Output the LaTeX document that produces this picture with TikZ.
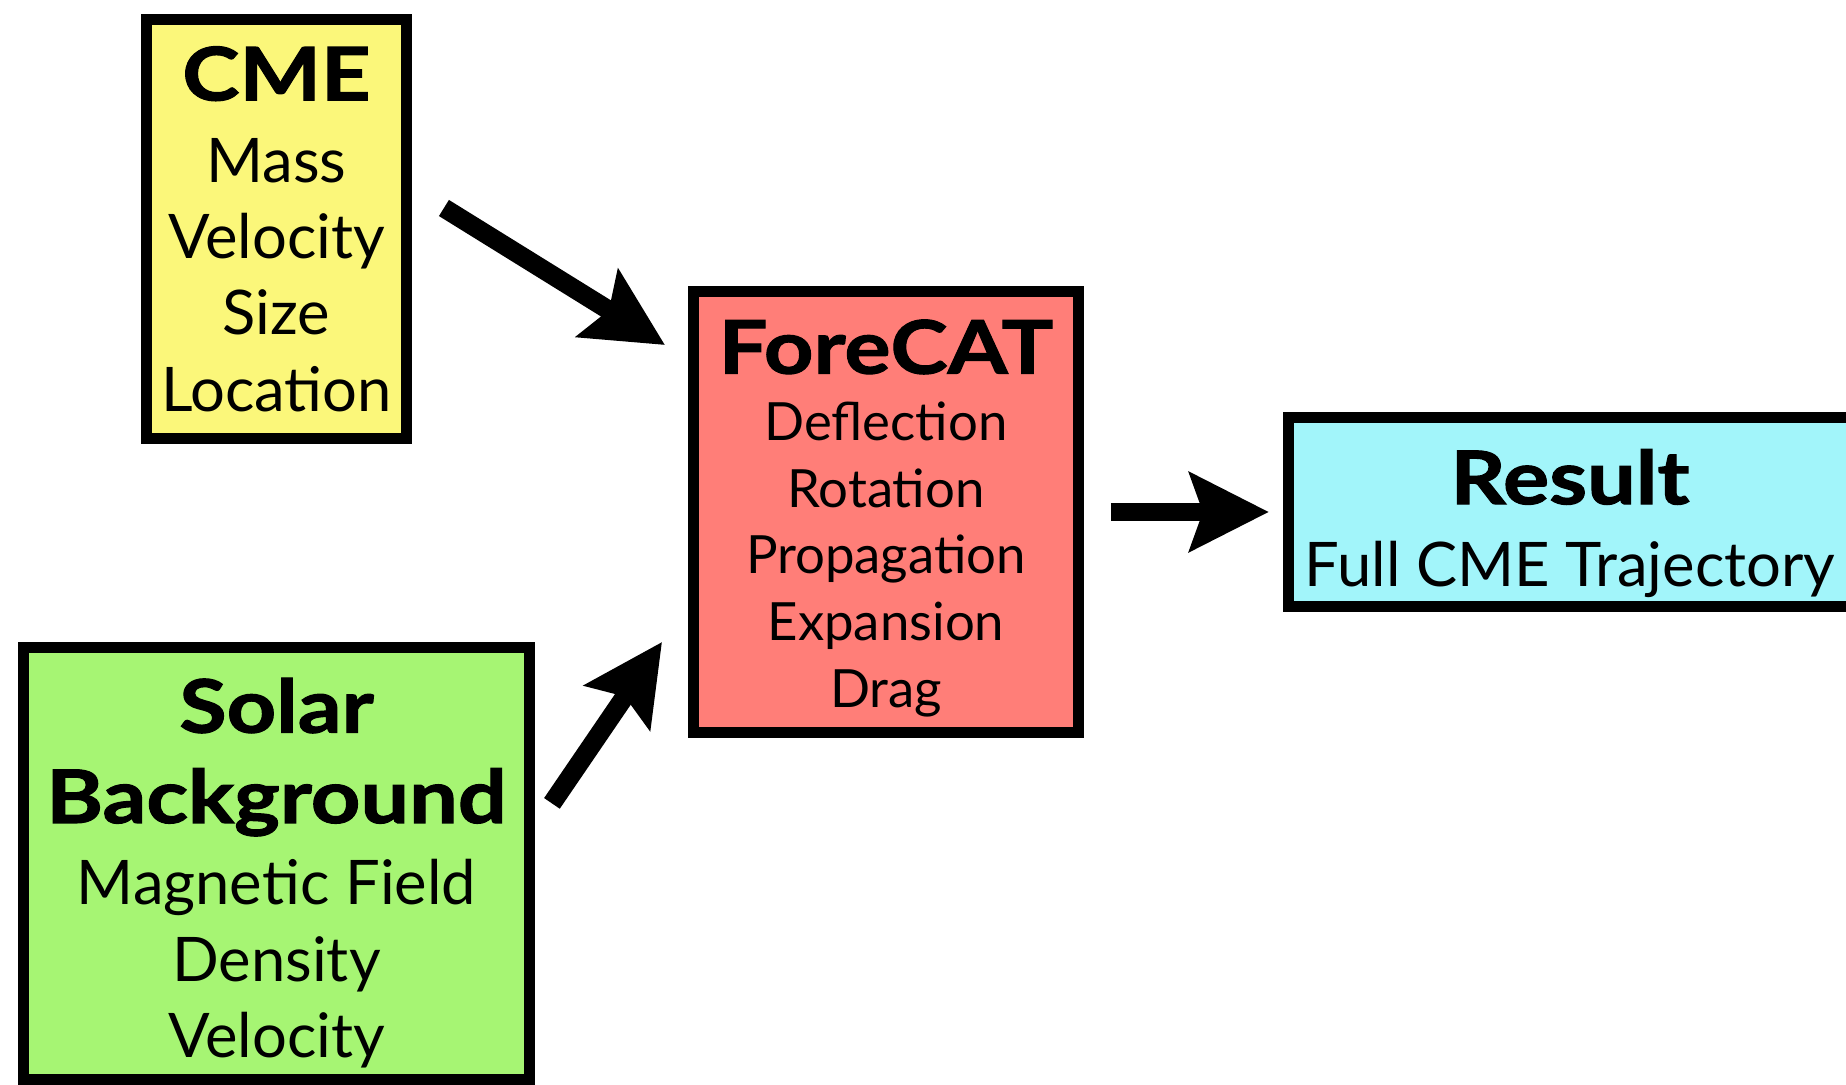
\documentclass[tikz,border=0pt]{standalone}
\usepackage{fontspec}
\setmainfont{Lato}
\newfontfamily\headfam{Lato}[FakeStretch=1.17, BoldFeatures={FakeBold=1.5}]
\usepackage{xcolor}
\usetikzlibrary{arrows.meta,positioning}

\definecolor{cmeyellow}{RGB}{251,247,122}
\definecolor{forered}{RGB}{255,126,120}
\definecolor{resultcyan}{RGB}{162,245,250}
\definecolor{solargreen}{RGB}{166,245,115}

\newcommand{\headfont}{\headfam\fontsize{21}{26}\selectfont\bfseries}
\newcommand{\listfont}{\fontsize{17.5}{21.7}\selectfont}
\newcommand{\smallfont}{\fontsize{15}{19}\selectfont}

\begin{document}
\begin{tikzpicture}[node distance=2cm, >={Stealth[length=7.9mm,width=7.8mm,inset=1.3mm]},
    box/.style={draw, line width=3.1pt, align=center, inner sep=0pt},
    flow/.style={->, line width=5.4pt}]
    \useasboundingbox (0,0) rectangle (18.46,10.85);

    \node[box, fill=cmeyellow, font=\listfont, minimum width=2.6cm, minimum height=4.19cm] (cme) at (2.765,8.56)
        {{\headfont CME}\\[1.6pt] Mass\\ Velocity\\ Size\\ Location};
    \node[box, fill=solargreen, font=\listfont, minimum width=5.06cm, minimum height=4.32cm, below=1.98cm of cme] (solar)
        {{\headfont\rule{0pt}{21pt}Solar}\\[4pt] {\headfont Background}\\[1.6pt] Magnetic Field\\ Density\\ Velocity};
    \node[box, fill=forered, font=\smallfont, minimum width=3.85cm, minimum height=4.41cm] (fore) at (8.86,5.73)
        {{\headfont\rule{0pt}{19pt}ForeCAT}\\ Deflection\\ Rotation\\ Propagation\\ Expansion\\ Drag};
    \node[box, fill=resultcyan, font=\listfont, minimum width=5.63cm, minimum height=1.89cm, right=1.99cm of fore] (res)
        {{\headfont\rule{0pt}{22pt}Result}\\[1.6pt] Full CME Trajectory};

    \draw[flow] ([shift={(0.32,0.21)}]cme.east) -- ([shift={(-0.23,-0.59)}]fore.north west);
    \draw[flow] ([shift={(0.17,0.6)}]solar.east) -- ([shift={(-0.26,0.96)}]fore.south west);
    \draw[flow, shorten <=0.27cm, shorten >=0.14cm] (fore) -- (res);
\end{tikzpicture}
\end{document}
